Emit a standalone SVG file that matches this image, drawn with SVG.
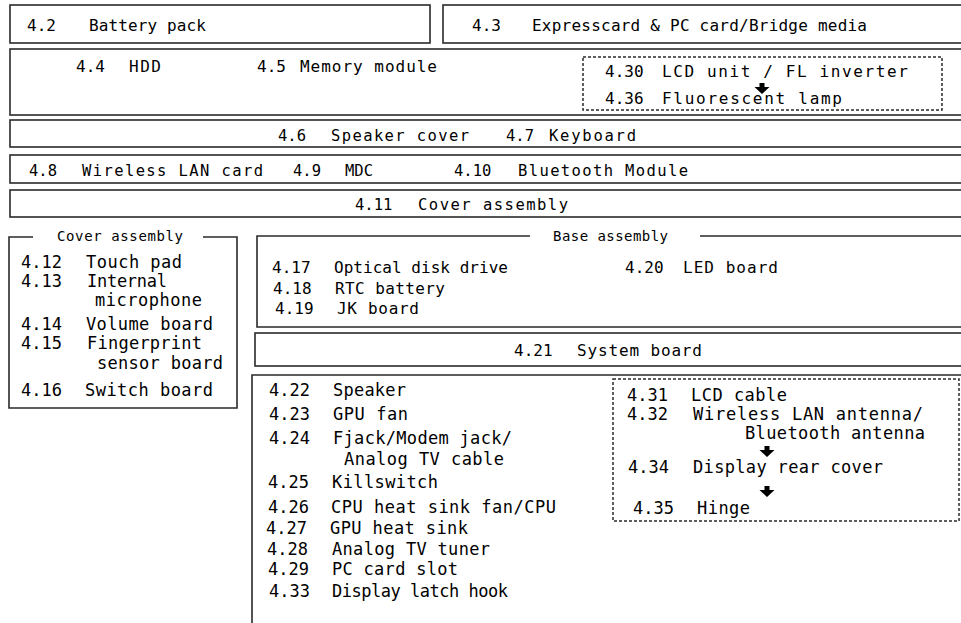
<svg xmlns="http://www.w3.org/2000/svg" width="961" height="623" viewBox="0 0 961 623">
<defs>
<style>
text{font-family:"DejaVu Sans Mono","Liberation Mono",monospace;fill:#000}
.box{fill:none;stroke:#2a2a2a;stroke-width:1.6}
.dot{fill:none;stroke:#2a2a2a;stroke-width:1.5;stroke-dasharray:3 2}
.s14{font-size:14px}
.s15{font-size:15.5px}
.s16{font-size:16px}
.s17{font-size:17px}
.arr{fill:#000}
</style>
<path id="arr" class="arr" d="M-2.5,0 H2.5 V4 H7.5 L0,11 L-7.5,4 H-2.5 Z"/>
</defs>
<rect width="961" height="623" fill="#fff"/>

<g id="n4-2">
<rect class="box" x="10" y="5" width="420" height="38"/>
<text class="s16" x="27" y="31">4.2</text>
<text class="s16" x="89" y="31" textLength="117" lengthAdjust="spacing">Battery pack</text>
</g>

<g id="n4-3">
<rect class="box" x="443" y="5" width="530" height="38"/>
<text class="s16" x="472" y="31">4.3</text>
<text class="s16" x="532" y="31" textLength="335" lengthAdjust="spacing">Expresscard &amp; PC card/Bridge media</text>
</g>

<g id="n4-4-4-5">
<rect class="box" x="10" y="49" width="965" height="66"/>
<text class="s16" x="76" y="72">4.4</text>
<text class="s16" x="129" y="72" textLength="32" lengthAdjust="spacing">HDD</text>
<text class="s16" x="257" y="72">4.5</text>
<text class="s16" x="300" y="72" textLength="137" lengthAdjust="spacing">Memory module</text>
</g>

<g id="n4-30-4-36">
<rect class="dot" x="583" y="57" width="359" height="53"/>
<text class="s16" x="605" y="77">4.30</text>
<text class="s16" x="662" y="77" textLength="246" lengthAdjust="spacing">LCD unit / FL inverter</text>
<text class="s16" x="605" y="104">4.36</text>
<text class="s16" x="662" y="104" textLength="180" lengthAdjust="spacing">Fluorescent lamp</text>
</g>

<g id="n4-6-4-7">
<rect class="box" x="10" y="120" width="965" height="27"/>
<text class="s15" x="278" y="141">4.6</text>
<text class="s15" x="331" y="141" textLength="138" lengthAdjust="spacing">Speaker cover</text>
<text class="s15" x="506" y="141">4.7</text>
<text class="s15" x="549" y="141" textLength="87" lengthAdjust="spacing">Keyboard</text>
</g>

<g id="n4-8-4-10">
<rect class="box" x="10" y="155" width="965" height="28"/>
<text class="s15" x="29" y="176">4.8</text>
<text class="s15" x="82" y="176" textLength="181" lengthAdjust="spacing">Wireless LAN card</text>
<text class="s15" x="293" y="176">4.9</text>
<text class="s15" x="345" y="176">MDC</text>
<text class="s15" x="454" y="176">4.10</text>
<text class="s15" x="518" y="176" textLength="170" lengthAdjust="spacing">Bluetooth Module</text>
</g>

<g id="n4-11">
<rect class="box" x="10" y="190" width="965" height="27"/>
<text class="s15" x="355" y="210">4.11</text>
<text class="s15" x="418" y="210" textLength="150" lengthAdjust="spacing">Cover assembly</text>
</g>

<g id="cover-assembly">
<path class="box" d="M33,237 H9 V408 H237 V237 H203"/>
<text class="s14" x="57" y="241" textLength="126" lengthAdjust="spacing">Cover assembly</text>
<text class="s17" x="21" y="268">4.12</text>
<text class="s17" x="86" y="268" textLength="96" lengthAdjust="spacing">Touch pad</text>
<text class="s17" x="21" y="287">4.13</text>
<text class="s17" x="87" y="287" textLength="80" lengthAdjust="spacing">Internal</text>
<text class="s17" x="95" y="306" textLength="107" lengthAdjust="spacing">microphone</text>
<text class="s17" x="21" y="330">4.14</text>
<text class="s17" x="86" y="330" textLength="127" lengthAdjust="spacing">Volume board</text>
<text class="s17" x="21" y="349">4.15</text>
<text class="s17" x="87" y="349" textLength="115" lengthAdjust="spacing">Fingerprint</text>
<text class="s17" x="97" y="369" textLength="126" lengthAdjust="spacing">sensor board</text>
<text class="s17" x="21" y="396">4.16</text>
<text class="s17" x="85" y="396" textLength="128" lengthAdjust="spacing">Switch board</text>
</g>

<g id="base-assembly">
<path class="box" d="M530,236 H257 V327 H975 M700,236 H975"/>
<text class="s14" x="553" y="241" textLength="115" lengthAdjust="spacing">Base assembly</text>
<text class="s16" x="272" y="273">4.17</text>
<text class="s16" x="334" y="273" textLength="174" lengthAdjust="spacing">Optical disk drive</text>
<text class="s16" x="273" y="294">4.18</text>
<text class="s16" x="335" y="294" textLength="110" lengthAdjust="spacing">RTC battery</text>
<text class="s16" x="275" y="314">4.19</text>
<text class="s16" x="337" y="314" textLength="82" lengthAdjust="spacing">JK board</text>
<text class="s16" x="625" y="273">4.20</text>
<text class="s16" x="683" y="273" textLength="95" lengthAdjust="spacing">LED board</text>
</g>

<g id="n4-21">
<rect class="box" x="255" y="333" width="720" height="33"/>
<text class="s16" x="514" y="356">4.21</text>
<text class="s16" x="577" y="356" textLength="125" lengthAdjust="spacing">System board</text>
</g>

<g id="system-board-parts">
<path class="box" d="M252,623 V375 H975"/>
<text class="s17" x="269" y="396">4.22</text>
<text class="s17" x="333" y="396" textLength="73" lengthAdjust="spacing">Speaker</text>
<text class="s17" x="269" y="420">4.23</text>
<text class="s17" x="333" y="420" textLength="75" lengthAdjust="spacing">GPU fan</text>
<text class="s17" x="269" y="444">4.24</text>
<text class="s17" x="333" y="444" textLength="179" lengthAdjust="spacing">Fjack/Modem jack/</text>
<text class="s17" x="344" y="465" textLength="160" lengthAdjust="spacing">Analog TV cable</text>
<text class="s17" x="268" y="488">4.25</text>
<text class="s17" x="332" y="488" textLength="106" lengthAdjust="spacing">Killswitch</text>
<text class="s17" x="268" y="513">4.26</text>
<text class="s17" x="331" y="513" textLength="225" lengthAdjust="spacing">CPU heat sink fan/CPU</text>
<text class="s17" x="266" y="534">4.27</text>
<text class="s17" x="330" y="534" textLength="138" lengthAdjust="spacing">GPU heat sink</text>
<text class="s17" x="267" y="555">4.28</text>
<text class="s17" x="332" y="555" textLength="158" lengthAdjust="spacing">Analog TV tuner</text>
<text class="s17" x="268" y="575">4.29</text>
<text class="s17" x="332" y="575" textLength="126" lengthAdjust="spacing">PC card slot</text>
<text class="s17" x="269" y="597">4.33</text>
<text class="s17" x="332" y="597" textLength="176" lengthAdjust="spacing">Display latch hook</text>
</g>

<g id="display-parts">
<rect class="dot" x="613" y="379" width="346" height="142"/>
<text class="s17" x="627" y="401">4.31</text>
<text class="s17" x="691" y="401" textLength="96" lengthAdjust="spacing">LCD cable</text>
<text class="s17" x="627" y="420">4.32</text>
<text class="s17" x="693" y="420" textLength="230" lengthAdjust="spacing">Wireless LAN antenna/</text>
<text class="s17" x="745" y="439" textLength="180" lengthAdjust="spacing">Bluetooth antenna</text>
<text class="s17" x="628" y="473">4.34</text>
<text class="s17" x="693" y="473" textLength="190" lengthAdjust="spacing">Display rear cover</text>
<text class="s17" x="633" y="514">4.35</text>
<text class="s17" x="697" y="514" textLength="53" lengthAdjust="spacing">Hinge</text>
</g>

<g id="connectors">
<use href="#arr" x="762" y="83"/>
<use href="#arr" x="767" y="446"/>
<use href="#arr" x="767" y="486"/>
</g>
</svg>
